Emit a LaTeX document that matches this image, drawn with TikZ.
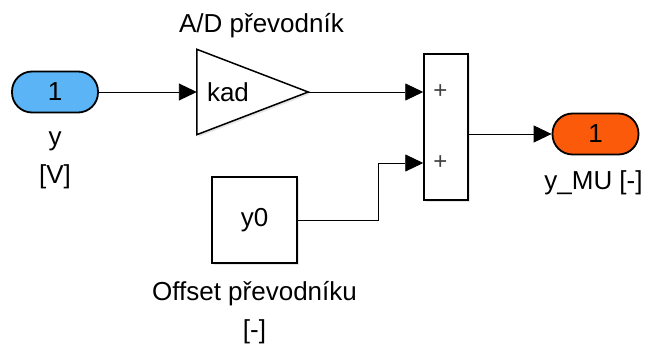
\documentclass[tikz,border=0pt]{standalone}
\usepackage{fontspec}
\setmainfont{Liberation Sans}
\usetikzlibrary{arrows.meta,positioning,shadows,backgrounds}
\definecolor{inblue}{RGB}{90,180,245}
\definecolor{outorange}{RGB}{250,90,10}

\begin{document}
\begin{tikzpicture}[
      x=1pt, y=-1pt,
      >={Triangle[length=18pt,width=17pt]},
      font=\fontsize{26}{38}\selectfont,
      port/.style={
          rectangle, rounded corners=20pt,
          draw, line width=1.8pt,
          minimum width=86pt, minimum height=41pt, inner sep=0pt
      },
      block/.style={
          rectangle, draw, line width=1.5pt, fill=white,
          drop shadow={shadow xshift=2pt, shadow yshift=-2pt, opacity=0.2},
          inner sep=0pt
      },
      sig/.style={->, line width=0.9pt},
      blocklabel/.style={anchor=base, align=center},
      signlabel/.style={font=\fontsize{24}{24}\selectfont, text=black!75, inner sep=0pt}
  ]
    \useasboundingbox (0,0) rectangle (651,347);

    % inport y [V]
    \node[port, fill=inblue] (in) at (55,92) {1};
    \node[blocklabel] (inlab) at ([yshift=-92pt]in.center) {y\\{[V]}};

    % gain (A/D converter), triangle drawn behind the text
    \node[text width=91pt, inner xsep=10pt, inner ysep=0pt,
          minimum height=85pt, align=left] (gain) at (252.5,92) {kad};
    \begin{scope}[on background layer]
        \draw[line width=1.5pt, fill=white,
              drop shadow={shadow xshift=2pt, shadow yshift=-2pt, opacity=0.2}]
            (gain.north west) -- (gain.east) -- (gain.south west) -- cycle;
    \end{scope}
    \node[blocklabel] (gainlab) at ([xshift=9pt, yshift=59pt]gain.center) {A/D převodník};

    % sum block with two inputs
    \node[block, minimum width=44pt, minimum height=146pt] (sum) at (446,127) {};
    \coordinate (sumin1) at ([yshift=35pt]sum.west);
    \coordinate (sumin2) at ([yshift=-36pt]sum.west);
    \node[signlabel, right=10pt of sumin1] (plus1) {+};
    \node[signlabel, right=10pt of sumin2] (plus2) {+};

    % constant offset
    \node[block, minimum width=85pt, minimum height=86pt] (const) at (254.5,220) {y0};
    \node[blocklabel] (constlab) at ([yshift=-119pt]const.center) {Offset převodníku\\{[-]}};

    % outport
    \node[port, fill=outorange] (out) at (595.5,134) {1};
    \node[blocklabel] (outlab) at ([xshift=-2pt, yshift=-56pt]out.center) {y\_MU [-]};

    % signal lines
    \draw[sig] (in.east) -- (in.east -| gain.west);
    \draw[sig] (gain.east) -- (sumin1);
    \draw[sig] (const.east) -- ++(81,0) |- (sumin2);
    \draw[sig] (sum.east |- out.west) -- (out.west);
  \end{tikzpicture}
\end{document}
